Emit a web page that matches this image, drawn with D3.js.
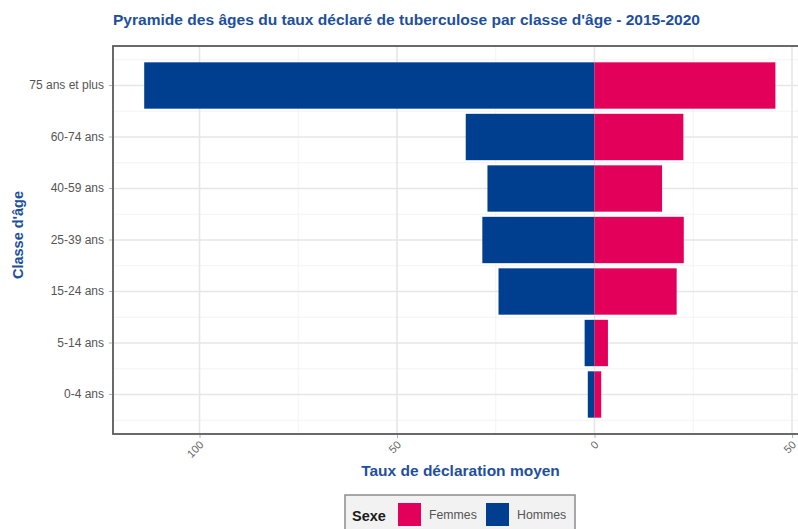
<!DOCTYPE html>
<html><head><meta charset="utf-8">
<script src="https://cdn.jsdelivr.net/npm/d3@7"></script>
<style>
html,body{margin:0;padding:0;background:#fff;}
svg{display:block;font-family:"Liberation Sans",Arial,sans-serif;}
</style></head>
<body><svg id="c" width="798" height="529"></svg>
<script>
const categories = ["75 ans et plus","60-74 ans","40-59 ans","25-39 ans","15-24 ans","5-14 ans","0-4 ans"];
const hommes = [114.0, 32.6, 27.1, 28.4, 24.3, 2.5, 1.7];
const femmes = [45.8, 22.5, 17.1, 22.6, 20.8, 3.4, 1.7];
const xTicks = [-100, -50, 0, 50];
const xTickLabels = ["100", "50", "0", "50"];
const xMinor = [-75, -25, 25];
const seriesNames = ["Femmes", "Hommes"];
const colors = {Femmes: "#e2005a", Hommes: "#003f8f"};
const title = "Pyramide des âges du taux déclaré de tuberculose par classe d'âge - 2015-2020";
const xTitle = "Taux de déclaration moyen";
const yTitle = "Classe d'âge";
const legendTitle = "Sexe";

const svg = d3.select("#c");
const P = {l: 113, r: 808, t: 46, b: 434};
const blue = "#1e4f9e";

const x = d3.scaleLinear().domain([-121.9, 54.05]).range([P.l, P.r]);
const y = d3.scaleBand().domain(categories).range([P.t, P.b]).paddingInner(0.1).paddingOuter(0.317);
const step = y.step();
const yc = c => y(c) + y.bandwidth() / 2;

const g = svg.append("g");
svg.append("defs").append("clipPath").attr("id","clip").append("rect")
  .attr("x",P.l).attr("y",P.t).attr("width",P.r-P.l).attr("height",P.b-P.t);
const panel = g.append("g").attr("clip-path","url(#clip)");

// minor grid
const yMinor = [];
categories.forEach(c => { yMinor.push(yc(c) - step/2); });
yMinor.push(yc(categories[categories.length-1]) + step/2);
panel.selectAll(".hmin").data(yMinor).join("line")
  .attr("x1",P.l).attr("x2",P.r).attr("y1",d=>d).attr("y2",d=>d)
  .attr("stroke","#f3f3f3").attr("stroke-width",1);
panel.selectAll(".vmin").data(xMinor).join("line")
  .attr("x1",d=>x(d)).attr("x2",d=>x(d)).attr("y1",P.t).attr("y2",P.b)
  .attr("stroke","#f3f3f3").attr("stroke-width",1);
// major grid
panel.selectAll(".hmaj").data(categories).join("line")
  .attr("x1",P.l).attr("x2",P.r).attr("y1",d=>yc(d)).attr("y2",d=>yc(d))
  .attr("stroke","#e6e6e6").attr("stroke-width",1.6);
panel.selectAll(".vmaj").data(xTicks).join("line")
  .attr("x1",d=>x(d)).attr("x2",d=>x(d)).attr("y1",P.t).attr("y2",P.b)
  .attr("stroke","#e6e6e6").attr("stroke-width",1.6);

// bars
panel.selectAll(".bh").data(categories).join("rect")
  .attr("x",(d,i)=>x(-hommes[i])).attr("width",(d,i)=>x(0)-x(-hommes[i]))
  .attr("y",d=>y(d)).attr("height",y.bandwidth())
  .attr("fill",colors.Hommes);
panel.selectAll(".bf").data(categories).join("rect")
  .attr("x",x(0)).attr("width",(d,i)=>x(femmes[i])-x(0))
  .attr("y",d=>y(d)).attr("height",y.bandwidth())
  .attr("fill",colors.Femmes);

// border
g.append("rect").attr("x",P.l).attr("y",P.t).attr("width",P.r-P.l).attr("height",P.b-P.t)
  .attr("fill","none").attr("stroke","#5a5a5a").attr("stroke-width",1.8);

// y axis
const yAxis = d3.axisLeft(y).tickSize(3).tickPadding(5);
const ya = g.append("g").attr("transform",`translate(${P.l-1},0)`).call(yAxis);
ya.select(".domain").remove();
ya.selectAll("line").attr("stroke","#b3b3b3");
ya.selectAll("text").attr("fill","#555").attr("font-size","12px").attr("font-family","Liberation Sans, Arial, sans-serif");

// x axis
const xAxis = d3.axisBottom(x).tickValues(xTicks).tickSize(3).tickFormat((d,i)=>xTickLabels[i]);
const xa = g.append("g").attr("transform",`translate(0,${P.b+1})`).call(xAxis);
xa.select(".domain").remove();
xa.selectAll("line").attr("stroke","#b3b3b3");
xa.selectAll("text").attr("fill","#666").attr("font-size","11px")
  .attr("font-family","Liberation Sans, Arial, sans-serif")
  .attr("y",null).attr("dy",null)
  .attr("text-anchor","end")
  .attr("transform","translate(-1,5) rotate(-45)")
  .attr("dy","0.7em");

// titles
const t = svg.append("text").attr("x",P.l).attr("y",25).text(title)
  .attr("fill",blue).attr("font-weight","bold").attr("font-size","13.5px");
const tw = t.node().getComputedTextLength();
t.attr("font-size", (13.5*587/tw).toFixed(2)+"px");

svg.append("text").attr("x",(P.l+P.r)/2).attr("y",476).attr("text-anchor","middle")
  .text(xTitle).attr("fill",blue).attr("font-weight","bold").attr("font-size","15.5px");
svg.append("text").attr("transform","translate(23,235) rotate(-90)").attr("text-anchor","middle")
  .text(yTitle).attr("fill",blue).attr("font-weight","bold").attr("font-size","14.5px");

// legend
const lg = svg.append("g");
lg.append("rect").attr("x",345).attr("y",495).attr("width",230).attr("height",45)
  .attr("fill","#f2f2f2").attr("stroke","#8c8c8c").attr("stroke-width",1.5);
lg.append("text").attr("x",352).attr("y",521).text(legendTitle)
  .attr("font-weight","bold").attr("font-size","14.5px").attr("fill","#1a1a1a");
const lx = d3.scalePoint().domain(seriesNames).range([398, 486]);
seriesNames.forEach(s => {
  lg.append("rect").attr("x",lx(s)).attr("y",503).attr("width",23).attr("height",23).attr("fill",colors[s]);
  lg.append("text").attr("x",lx(s)+31).attr("y",519).text(s).attr("font-size","12.3px").attr("fill","#555");
});
</script></body></html>
